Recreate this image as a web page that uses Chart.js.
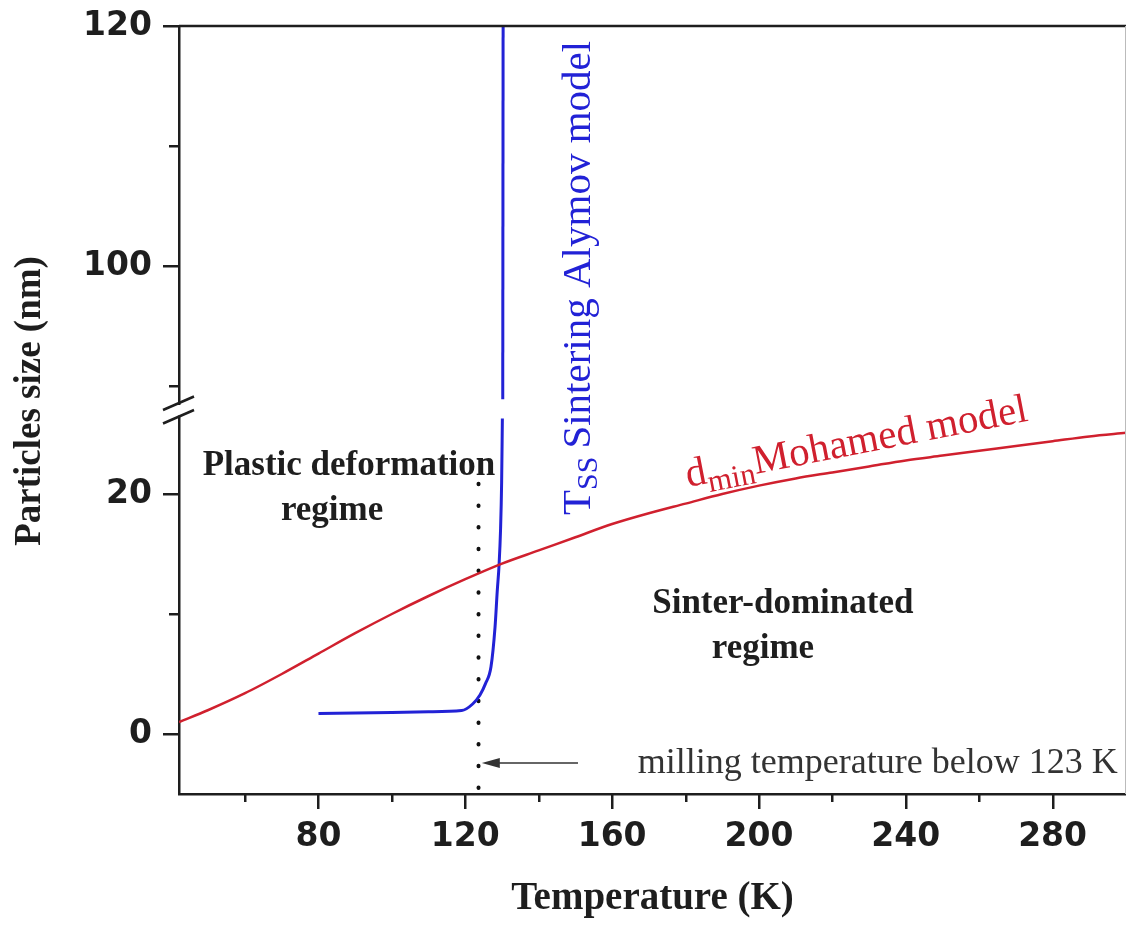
<!DOCTYPE html>
<html>
<head>
<meta charset="UTF-8">
<title>Particle size vs temperature</title>
<script src="https://cdn.jsdelivr.net/npm/chart.js@4/dist/chart.umd.min.js"></script>
<style>
  html, body { margin: 0; padding: 0; background: #fff; }
  #wrap { width: 1126px; height: 932px; position: relative; }
</style>
</head>
<body>
<div id="wrap"><canvas id="chart"></canvas></div>
<script>
// ── data (temperature in K, size in nm) ─────────────────────────────
const redX = [42, 50, 60, 70, 80, 90, 100, 110, 120, 130, 140, 150, 160, 170, 180, 190, 200, 210, 220, 230, 240, 250, 260, 270, 280, 290, 300];
const redY = [1.0, 2.0, 3.4, 5.0, 6.7, 8.4, 10.0, 11.5, 12.9, 14.2, 15.3, 16.4, 17.5, 18.4, 19.2, 20.0, 20.7, 21.3, 21.8, 22.3, 22.8, 23.2, 23.6, 24.0, 24.4, 24.8, 25.1];

const blueLowX = [80, 90, 100, 110, 119, 122, 124, 125.5, 127, 128.1, 128.7, 129.2, 129.6, 129.9, 130.1];
const blueLowY = [1.7, 1.75, 1.8, 1.85, 1.95, 2.5, 3.25, 4.2, 5.6, 8.9, 11.9, 14.1, 17, 21, 26.3];
const blueHighX = [130.2, 130.3];
const blueHighY = [88.9, 120];

const millX = [123.6, 123.6];
const millY = [-4.5, 21.6];

const xTicks = [60, 80, 100, 120, 140, 160, 180, 200, 220, 240, 260, 280];
const xTickLabels = ['', '80', '', '120', '', '160', '', '200', '', '240', '', '280'];
const yTicks = [0, 10, 20, 90, 100, 110, 120];
const yTickLabels = ['0', '', '20', '', '100', '', '120'];

// broken y axis: values above the break are shifted down
const BREAK_AT = 27;
const BREAK_SHIFT = 61;
const toDisp = v => (v > 50 ? v - BREAK_SHIFT : v);
const pts = (xs, ys) => xs.map((x, i) => ({ x: x, y: toDisp(ys[i]) }));

const RED = '#d0202e';
const BLUE = '#2222d6';
const INK = '#1e1e1e';

const tickStyle = { weight: 'bold', size: 33, family: '"DejaVu Sans", sans-serif' };

// ── extra drawing: tick marks, frame, break, annotations ────────────
const decor = {
  id: 'decor',
  afterDraw(chart) {
    const { ctx, chartArea: a, scales: { x, y } } = chart;
    const px = v => x.getPixelForValue(v);
    const py = v => y.getPixelForValue(toDisp(v));
    ctx.save();

    // frame top + right
    ctx.strokeStyle = INK;
    ctx.lineWidth = 2.5;
    ctx.beginPath();
    ctx.moveTo(a.left, a.top);
    ctx.lineTo(a.right, a.top);
    ctx.stroke();
    ctx.strokeStyle = '#bbb';
    ctx.lineWidth = 1;
    ctx.beginPath();
    ctx.moveTo(a.right - 0.5, a.top);
    ctx.lineTo(a.right - 0.5, a.bottom);
    ctx.stroke();

    // tick marks (outside)
    ctx.strokeStyle = INK;
    ctx.lineWidth = 2.5;
    y.ticks.forEach((t, i) => {
      const len = yTickLabels[i] ? 16 : 10;
      const yy = Math.round(y.getPixelForValue(t.value)) + 0.25;
      ctx.beginPath();
      ctx.moveTo(a.left - len, yy);
      ctx.lineTo(a.left, yy);
      ctx.stroke();
    });
    x.ticks.forEach((t, i) => {
      const len = xTickLabels[i] ? 15 : 8;
      const xx = Math.round(x.getPixelForValue(t.value)) + 0.25;
      ctx.beginPath();
      ctx.moveTo(xx, a.bottom);
      ctx.lineTo(xx, a.bottom + len);
      ctx.stroke();
    });

    // axis break
    const yb = y.getPixelForValue(BREAK_AT);
    ctx.fillStyle = '#fff';
    ctx.fillRect(a.left - 3, yb - 5, 6, 10.5);
    ctx.lineWidth = 2.5;
    [-7, 6.5].forEach(d => {
      ctx.beginPath();
      ctx.moveTo(a.left - 16, yb + d + 7);
      ctx.lineTo(a.left + 15, yb + d - 6.5);
      ctx.stroke();
    });

    // y axis title
    ctx.save();
    ctx.translate(30, (a.top + a.bottom) / 2 - 9);
    ctx.rotate(-Math.PI / 2);
    ctx.fillStyle = INK;
    ctx.textAlign = 'center';
    ctx.textBaseline = 'middle';
    ctx.font = 'bold 37px "Liberation Serif", serif';
    ctx.fillText('Particles size (nm)', 0, 0);
    ctx.restore();

    // arrow to the milling line
    const ax0 = px(124.5), ax1 = px(150.7), ay = py(-2.42);
    ctx.strokeStyle = '#333';
    ctx.fillStyle = '#333';
    ctx.lineWidth = 1.5;
    ctx.beginPath();
    ctx.moveTo(ax0 + 16, ay);
    ctx.lineTo(ax1, ay);
    ctx.stroke();
    ctx.beginPath();
    ctx.moveTo(ax0, ay);
    ctx.lineTo(ax0 + 18, ay - 5);
    ctx.lineTo(ax0 + 18, ay + 5);
    ctx.closePath();
    ctx.fill();

    // regime labels
    ctx.fillStyle = INK;
    ctx.textAlign = 'center';
    ctx.textBaseline = 'alphabetic';
    ctx.font = 'bold 35px "Liberation Serif", serif';
    ctx.fillText('Plastic deformation', px(88.3), py(21.58));
    ctx.fillText('regime', px(83.7), py(17.83));
    ctx.fillText('Sinter-dominated', px(206.5), py(10.08));
    ctx.fillText('regime', px(201.1), py(6.33));

    ctx.textAlign = 'left';
    ctx.fillStyle = '#333';
    ctx.font = '36px "Liberation Serif", serif';
    ctx.fillText('milling temperature below 123 K', px(167.0), py(-3.25));

    // blue model label (vertical)
    ctx.save();
    ctx.translate(px(153.96), py(18.25));
    ctx.rotate(-Math.PI / 2);
    ctx.fillStyle = BLUE;
    ctx.font = '41px "Liberation Serif", serif';
    ctx.fillText('T', 0, 0);
    let w = ctx.measureText('T').width;
    ctx.font = '30px "Liberation Serif", serif';
    ctx.fillText('SS', w, 7);
    w += ctx.measureText('SS').width + 8;
    ctx.font = '41px "Liberation Serif", serif';
    ctx.fillText('Sintering Alymov model', w, 0);
    ctx.restore();

    // red model label (slanted)
    ctx.save();
    ctx.translate(px(180.65), py(20.58));
    ctx.rotate(-11 * Math.PI / 180);
    ctx.fillStyle = RED;
    ctx.font = '41px "Liberation Serif", serif';
    ctx.fillText('d', 0, 0);
    w = ctx.measureText('d').width;
    ctx.font = '31px "Liberation Serif", serif';
    ctx.fillText('min', w, 9);
    w += ctx.measureText('min').width;
    ctx.font = '41px "Liberation Serif", serif';
    ctx.fillText('Mohamed model', w, 0);
    ctx.restore();

    ctx.restore();
  }
};

new Chart(document.getElementById('chart'), {
  type: 'line',
  data: {
    datasets: [
      { data: pts(redX, redY), borderColor: RED, borderWidth: 2.5, pointRadius: 0, cubicInterpolationMode: 'monotone' },
      { data: pts(blueLowX, blueLowY), borderColor: BLUE, borderWidth: 3, pointRadius: 0, cubicInterpolationMode: 'monotone' },
      { data: pts(blueHighX, blueHighY), borderColor: BLUE, borderWidth: 3, pointRadius: 0 },
      { data: pts(millX, millY), borderColor: '#111', borderWidth: 4, pointRadius: 0,
        borderDash: [0.5, 21.2], borderCapStyle: 'round' }
    ]
  },
  options: {
    responsive: true,
    maintainAspectRatio: false,
    animation: false,
    layout: { padding: { top: 26, right: 0, left: 0, bottom: 0 } },
    plugins: { legend: { display: false }, tooltip: { enabled: false } },
    scales: {
      x: {
        type: 'linear', min: 42, max: 300,
        afterBuildTicks: s => { s.ticks = xTicks.map(v => ({ value: v })); },
        afterFit: s => { s.height = 138; s.paddingLeft = 0; s.paddingRight = 0; },
        grid: { display: false, drawTicks: false },
        border: { display: true, color: INK, width: 2.5 },
        ticks: { autoSkip: false, maxRotation: 0, padding: 24, color: INK, font: tickStyle,
          callback: (v, i) => xTickLabels[i] },
        title: { display: true, text: 'Temperature (K)', color: INK, padding: { bottom: 10 },
          font: { weight: 'bold', size: 39, family: '"Liberation Serif", serif', lineHeight: 1.2 } }
      },
      y: {
        type: 'linear', min: -5, max: toDisp(120),
        afterBuildTicks: s => { s.ticks = yTicks.map(v => ({ value: toDisp(v) })); },
        afterFit: s => { s.width = 179; s.paddingTop = 0; s.paddingBottom = 0; },
        grid: { display: false, drawTicks: false },
        border: { display: true, color: INK, width: 2.5 },
        ticks: { autoSkip: false, padding: 27, color: INK, font: tickStyle,
          callback: (v, i) => yTickLabels[i] }
      }
    }
  },
  plugins: [decor]
});
</script>
</body>
</html>
